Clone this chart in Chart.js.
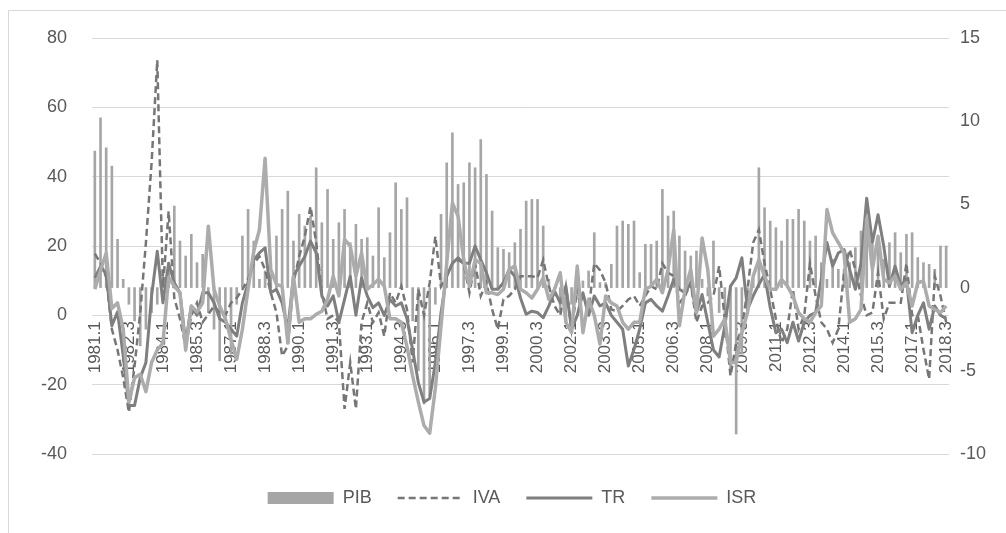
<!DOCTYPE html>
<html><head><meta charset="utf-8">
<script src="https://cdn.jsdelivr.net/npm/chart.js@4.4.0/dist/chart.umd.min.js"></script>
<style>html,body{margin:0;padding:0;background:#fff;}#wrap{width:1006px;height:533px;}</style>
</head><body><div id="wrap"><canvas id="c" width="1006" height="533"></canvas></div>
<script>
const categories = [
"1981.1","1981.2","1981.3","1981.4","1982.1","1982.2","1982.3","1982.4","1983.1","1983.2","1983.3","1983.4",
"1984.1","1984.2","1984.3","1984.4","1985.1","1985.2","1985.3","1985.4","1986.1","1986.2","1986.3","1986.4",
"1987.1","1987.2","1987.3","1987.4","1988.1","1988.2","1988.3","1988.4","1989.1","1989.2","1989.3","1989.4",
"1990.1","1990.2","1990.3","1990.4","1991.1","1991.2","1991.3","1991.4","1992.1","1992.2","1992.3","1992.4",
"1993.1","1993.2","1993.3","1993.4","1994.1","1994.2","1994.3","1994.4","1995.1","1995.2","1995.3","1995.4",
"1996.1","1996.2","1996.3","1996.4","1997.1","1997.2","1997.3","1997.4","1998.1","1998.2","1998.3","1998.4",
"1999.1","1999.2","1999.3","1999.4","2000.1","2000.2","2000.3","2000.4","2001.1","2001.2","2001.3","2001.4",
"2002.1","2002.2","2002.3","2002.4","2003.1","2003.2","2003.3","2003.4","2004.1","2004.2","2004.3","2004.4",
"2005.1","2005.2","2005.3","2005.4","2006.1","2006.2","2006.3","2006.4","2007.1","2007.2","2007.3","2007.4",
"2008.1","2008.2","2008.3","2008.4","2009.1","2009.2","2009.3","2009.4","2010.1","2010.2","2010.3","2010.4",
"2011.1","2011.2","2011.3","2011.4","2012.1","2012.2","2012.3","2012.4","2013.1","2013.2","2013.3","2013.4",
"2014.1","2014.2","2014.3","2014.4","2015.1","2015.2","2015.3","2015.4","2016.1","2016.2","2016.3","2016.4",
"2017.1","2017.2","2017.3","2017.4","2018.1","2018.2","2018.3"];

const pib = [
8.2,10.2,8.4,7.3,2.9,0.5,-1.0,-2.0,-3.5,-2.5,
-1.5,-1.0,0.8,1.5,4.9,2.8,1.9,3.2,1.5,2.0,
-1.5,-2.5,-4.4,-2.0,-4.0,-1.0,3.1,4.7,2.8,0.5,
1.0,0.8,3.1,4.7,5.8,2.8,4.4,3.7,4.3,7.2,
3.9,5.9,2.9,3.9,4.7,2.7,3.8,2.9,3.0,1.9,
4.8,1.8,3.3,6.3,4.7,5.4,-2.0,-5.0,-7.0,-6.5,
-1.0,4.4,7.5,9.3,6.2,6.3,7.5,7.2,8.9,6.8,
4.6,2.4,2.3,2.1,2.7,3.5,5.2,5.3,5.3,3.7,
0.5,-0.5,-1.5,-2.0,-1.0,-0.5,0.4,1.0,3.3,0.3,
0.3,1.4,3.7,4.0,3.8,4.0,0.9,2.6,2.6,2.8,
5.9,4.3,4.6,3.1,2.2,1.9,2.2,0.5,-0.5,2.8,
-1.5,-3.0,-5.0,-8.8,-4.0,-1.5,0.5,7.2,4.8,4.0,
3.6,2.8,4.1,4.1,4.7,4.0,2.8,3.1,1.5,0.5,
1.7,1.1,1.1,1.5,2.4,3.4,3.5,2.6,2.5,1.7,
2.7,3.3,2.1,3.2,3.3,1.8,1.5,1.4,1.1,2.5,
2.5];

const iva = [
17.8,15,11,-4,-10,-18,-28,-14.6,0.8,21,
44,73.6,8,30,5,-1,-9,0,3.6,-2,
0.3,2.7,0.8,0,3.6,5,7.5,10.4,15,17,
13.2,6.5,0.8,-11.7,-8.8,9.4,17,22.8,31.4,21,
6.5,-1,0,-2,-27,-13.6,-27,-2,3.6,-2,
0.8,-6,6.5,3.6,8.4,1.7,-13.6,7.5,0,9.4,
22.8,8.4,11.3,15,16,15,6.5,15,5.6,9.4,
1.7,-4,4.6,5.6,7.5,11.3,11.3,11.3,10.8,16,
8.4,2.7,0,8.4,-4,7.5,-2,1.7,15,13,
9.4,1.7,1.2,2.7,4.6,5.6,2.7,5.6,8.4,7.5,
15,12.3,11.3,3.6,5.6,9.4,-2,2.7,3.6,5.6,
14.2,-1,-17.5,-8,-4,7.5,21,24.7,15,7.5,
-1,-8,-4,7.5,-4,0,15,5.6,-2,-4,
-7.9,-4,12.3,19,13.2,5.6,0,0.8,12.3,-1,
3.6,3.6,3.6,15,0,0,-9.8,-18.4,11.3,5.6,
-2];

const tr = [
10.8,14,12,-3,1,-11.7,-26,-26,-18,-13.6,
5.6,18.5,3.6,15,9.4,6.5,-8,2.7,0,6.5,
6.5,3.6,-1,-2,-4,-6,3.6,9.4,16,18,
19.5,6.5,7.5,3.6,-4,11.3,14.2,17,21.4,18,
5.6,2.7,5.6,-2,4.6,11.3,0,10.8,5.6,2.2,
3.6,0,4.6,2.7,3.6,-1,-10,-19.4,-25,-24,
-13.6,0.8,11.3,15,16.6,15,15,20,16,12.3,
7.5,7.5,9.4,13.2,11.3,5,0.3,1.2,0.8,-0.7,
2.7,7,3.6,8.4,-4,0,6.5,0,5.6,2.7,
3.6,0,-2,-4,-14.6,-9.8,-4,3.6,4.6,2.7,
1.2,5.6,10.4,7.5,6.5,9.4,0.8,6,-2,-10,
-12,-3,8.4,10.8,16.6,1.7,5.6,8.9,11.8,2.2,
-5,-4,-7.9,-2,-7.4,-2,0,0.8,10.4,21,
14.2,18,19,13.2,7.5,15,33.8,21,29,20,
8.4,14.2,8.4,10.4,-5,0,3.6,-4,2.7,0,
-1];

const isr = [
7.5,13,18,2,3.6,-4,-25,-18,-17,-22,
-13.6,-10,-8,11,8.4,6.5,-10,2.7,1,3.6,
25.7,7.5,2.7,-1,-7,-12.7,-4,7.5,18.5,24.7,
45.3,13.2,8.9,8.4,-8,11.3,-2,-1,-1,0.3,
1.2,4.6,11.3,5.6,21.9,20,11.3,18,7.5,8.9,
10.4,8.4,-1,-1,-2,-9,-17.5,-25,-31.8,-34,
-21,-3,15,32.4,28.6,16,8.4,16,15,6.5,
6.5,6,7.5,13.2,14.2,7.5,6.5,5,7.5,10.8,
4.6,7.5,12.3,-2,-5,14.2,-5,4.6,0,-8.3,
5.6,3.6,2.7,-2,-4,-2,-2,7.5,8.4,10.4,
6.5,13.2,24.7,-3,7.5,13.2,0.8,22.3,13.2,-6,
-4,-1,-13.6,-13.6,-5,0.8,11.3,16,11.3,7.5,
7.5,10.4,8.5,5.6,0.8,-1,-2,0.8,2.7,30.5,
23.8,21,18,-2,-1,1.7,28,13.2,22.8,10.4,
9.4,11.3,7.5,9.4,2.7,9.4,9.9,2.7,1.7,0.8,
2.7];

const leftAxis = {min: -40, max: 80, step: 20};
const rightAxis = {min: -10, max: 15, step: 5};
const labelEvery = 6;

Chart.defaults.font.family = "'Liberation Sans', Arial, sans-serif";
Chart.defaults.font.size = 18;
Chart.defaults.color = '#595959';

const framePlugin = {
  id: 'frame',
  beforeDraw(chart) {
    const ctx = chart.ctx;
    ctx.save();
    ctx.fillStyle = '#ffffff';
    ctx.fillRect(0, 0, chart.width, chart.height);
    ctx.strokeStyle = '#d9d9d9';
    ctx.lineWidth = 1;
    ctx.strokeRect(8.5, 10.5, chart.width + 20, chart.height + 20);
    ctx.restore();
  },
  afterLayout(chart) {
    if (chart.legend) { chart.legend.left += 9; chart.legend.right += 9; }
  }
};

new Chart(document.getElementById('c'), {
  data: {
    labels: categories,
    datasets: [
      {type: 'bar', label: 'PIB', data: pib, yAxisID: 'y1', xAxisID: 'x', backgroundColor: '#a6a6a6', barThickness: 2, order: 4},
      {type: 'line', label: 'IVA', data: iva, yAxisID: 'y', xAxisID: 'x', borderColor: '#767676', backgroundColor: '#767676', borderWidth: 2.5, borderDash: [7, 4], pointRadius: 0, tension: 0, order: 3},
      {type: 'line', label: 'TR', data: tr, yAxisID: 'y', xAxisID: 'x', borderColor: '#7f7f7f', backgroundColor: '#7f7f7f', borderWidth: 3, pointRadius: 0, tension: 0, borderJoinStyle: 'round', order: 2},
      {type: 'line', label: 'ISR', data: isr, yAxisID: 'y', xAxisID: 'x', borderColor: '#acacac', backgroundColor: '#acacac', borderWidth: 3.5, pointRadius: 0, tension: 0, borderJoinStyle: 'round', order: 1}
    ]
  },
  options: {
    responsive: false,
    animation: false,
    layout: {padding: {top: 38, left: 0, right: 0, bottom: 16}},
    plugins: {
      tooltip: {enabled: false},
      legend: {
        position: 'bottom',
        labels: {
          usePointStyle: true,
          pointStyleWidth: 66,
          boxHeight: 12,
          padding: 26,
          font: {size: 18},
          color: '#595959',
          sort: (a, b) => a.datasetIndex - b.datasetIndex,
          generateLabels(chart) {
            const items = Chart.defaults.plugins.legend.labels.generateLabels(chart);
            items.forEach(it => {
              const ds = chart.data.datasets[it.datasetIndex];
              if (ds.type === 'bar') {
                it.pointStyle = 'rect'; it.lineWidth = 0; it.fillStyle = ds.backgroundColor; it.strokeStyle = ds.backgroundColor;
              } else {
                it.pointStyle = 'line'; it.lineWidth = ds.borderWidth; it.strokeStyle = ds.borderColor; it.lineDash = ds.borderDash || [];
              }
            });
            return items;
          }
        }
      }
    },
    scales: {
      x: {
        type: 'category',
        position: {y: 0},
        offset: true,
        grid: {display: false, drawTicks: false},
        border: {display: false},
        ticks: {
          autoSkip: false, minRotation: 90, maxRotation: 90, padding: 6,
          font: {size: 17},
          callback: function(v, i) { return i % labelEvery === 0 ? this.getLabelForValue(v) : null; }
        }
      },
      xpad: {
        type: 'linear', axis: 'x', position: 'bottom',
        grid: {display: false, drawTicks: false}, border: {display: false},
        ticks: {display: false},
        afterFit: s => { s.height = 9; }
      },
      y: {
        position: 'left', min: leftAxis.min, max: leftAxis.max,
        ticks: {stepSize: leftAxis.step, padding: 25, font: {size: 18}},
        grid: {color: '#d9d9d9', drawTicks: false, lineWidth: 1},
        border: {display: false},
        afterFit: s => { s.width = 92; }
      },
      y1: {
        position: 'right', min: rightAxis.min, max: rightAxis.max,
        ticks: {stepSize: rightAxis.step, padding: 11, font: {size: 18}},
        grid: {display: false, drawTicks: false},
        border: {display: false},
        afterFit: s => { s.width = 57; }
      }
    }
  },
  plugins: [framePlugin]
});
</script>
</body></html>
